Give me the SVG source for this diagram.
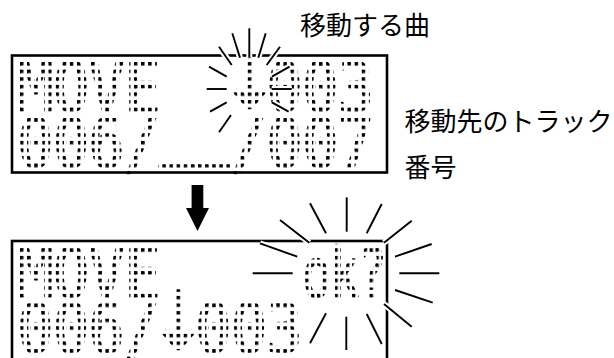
<svg xmlns="http://www.w3.org/2000/svg" width="614" height="358" viewBox="0 0 614 358">
<style>
.lcd{font-family:"DejaVu Sans Mono","Liberation Mono",monospace;font-weight:normal;font-size:67.2px;stroke-width:2.4;stroke-linejoin:round}
.arw{font-family:"DejaVu Sans","DejaVu Sans Mono",sans-serif;font-size:80px;text-anchor:middle}
.frame{fill:none;stroke:#000;stroke-width:2.6}
.lbl{font-family:"Noto Sans CJK JP","Noto Sans",sans-serif;font-size:26px;fill:#000}
.halo{stroke:#fff;stroke-width:6;stroke-linecap:butt}
.ray{stroke:#000;stroke-width:1.9;stroke-linecap:butt}
</style>
<defs>
<!-- dot grids, in the x-scaled (0.881) space of the LCD lines -->
<pattern id="p1" x="22.70" y="62.1" width="8.082" height="7.6" patternUnits="userSpaceOnUse"><rect width="3.86" height="3.4" fill="#000"/></pattern>
<pattern id="p2" x="22.70" y="118.1" width="8.082" height="7.6" patternUnits="userSpaceOnUse"><rect width="3.86" height="3.4" fill="#000"/></pattern>
<pattern id="p3" x="22.70" y="248.3" width="8.082" height="7.6" patternUnits="userSpaceOnUse"><rect width="3.86" height="3.4" fill="#000"/></pattern>
<pattern id="p4" x="22.70" y="303.5" width="8.082" height="7.6" patternUnits="userSpaceOnUse"><rect width="3.86" height="3.4" fill="#000"/></pattern>
<pattern id="pok" x="305.3" y="248.3" width="5.85" height="7.6" patternUnits="userSpaceOnUse"><rect width="3.2" height="3.4" fill="#000"/></pattern>
</defs>

<g id="display-before">
<rect class="frame" x="12" y="55.5" width="375" height="117"/>
<text class="lcd" transform="scale(0.881,1)" x="19.98" y="111.1" fill="url(#p1)" stroke="url(#p1)">MOVE<tspan class="arw" x="283.2" y="108">↓</tspan><tspan x="302.8" y="111.1">003</tspan></text>
<text class="lcd" transform="scale(0.881,1)" x="19.98" y="167.1" fill="url(#p2)" stroke="url(#p2)">006/<tspan x="181.6" y="153" stroke-width="4">__</tspan><tspan x="262.4" y="167.1">/007</tspan></text>
</g>

<g id="display-after">
<rect class="frame" x="12" y="241" width="375" height="130"/>
<text class="lcd" transform="scale(0.881,1)" x="19.98" y="297.3" fill="url(#p3)" stroke="url(#p3)">MOVE</text>
<text class="lcd" x="302.4" y="297.3" textLength="84" lengthAdjust="spacingAndGlyphs" fill="url(#pok)" stroke="url(#pok)">ok?</text>
<text class="lcd" transform="scale(0.881,1)" x="19.98" y="352.5" fill="url(#p4)" stroke="url(#p4)">006/<tspan class="arw" x="202.4" y="349.4">↓</tspan><tspan x="222" y="352.5">003</tspan></text>
</g>

<g id="sparkle-before">
<g class="halo">
<line x1="249.3" y1="28.3" x2="249.3" y2="57.5"/>
<line x1="232.3" y1="33.3" x2="240" y2="57.7"/>
<line x1="265.7" y1="33.3" x2="258.3" y2="57.7"/>
<line x1="219" y1="46.7" x2="231.7" y2="65"/>
<line x1="280" y1="46.7" x2="266.7" y2="65"/>
<line x1="209" y1="66.7" x2="226.7" y2="76.7"/>
<line x1="289.6" y1="66.7" x2="271.9" y2="76.7"/>
<line x1="206.7" y1="89" x2="226.7" y2="89"/>
<line x1="271.7" y1="89" x2="291.7" y2="89"/>
<line x1="210" y1="111.7" x2="226.7" y2="102.3"/>
<line x1="288.6" y1="111.7" x2="271.9" y2="102.3"/>
<line x1="219" y1="132.3" x2="231" y2="115"/>
</g>
<g class="ray">
<line x1="249.3" y1="28.3" x2="249.3" y2="57.5"/>
<line x1="232.3" y1="33.3" x2="240" y2="57.7"/>
<line x1="265.7" y1="33.3" x2="258.3" y2="57.7"/>
<line x1="219" y1="46.7" x2="231.7" y2="65"/>
<line x1="280" y1="46.7" x2="266.7" y2="65"/>
<line x1="209" y1="66.7" x2="226.7" y2="76.7"/>
<line x1="289.6" y1="66.7" x2="271.9" y2="76.7"/>
<line x1="206.7" y1="89" x2="226.7" y2="89"/>
<line x1="271.7" y1="89" x2="291.7" y2="89"/>
<line x1="210" y1="111.7" x2="226.7" y2="102.3"/>
<line x1="288.6" y1="111.7" x2="271.9" y2="102.3"/>
<line x1="219" y1="132.3" x2="231" y2="115"/>
</g>
</g>

<g id="sparkle-after">
<g class="halo">
<line x1="346.7" y1="197.3" x2="346.7" y2="231.7"/>
<line x1="310" y1="203.3" x2="326" y2="233.3"/>
<line x1="381.7" y1="204" x2="366.7" y2="233.3"/>
<line x1="280" y1="220" x2="309.3" y2="242.7"/>
<line x1="411.7" y1="220.7" x2="384" y2="242.7"/>
<line x1="260" y1="243.3" x2="297.3" y2="256.7"/>
<line x1="431.7" y1="244" x2="395" y2="256.7"/>
<line x1="252.7" y1="273.3" x2="292.7" y2="273.3"/>
<line x1="399.3" y1="273.3" x2="439.3" y2="273.3"/>
<line x1="395" y1="290" x2="432.7" y2="302.7"/>
<line x1="384" y1="304" x2="411.7" y2="326.7"/>
<line x1="346.3" y1="316.7" x2="346.3" y2="350"/>
<line x1="326" y1="313.3" x2="310" y2="343.3"/>
<line x1="366.7" y1="314" x2="381.7" y2="344"/>
</g>
<g class="ray">
<line x1="346.7" y1="197.3" x2="346.7" y2="231.7"/>
<line x1="310" y1="203.3" x2="326" y2="233.3"/>
<line x1="381.7" y1="204" x2="366.7" y2="233.3"/>
<line x1="280" y1="220" x2="309.3" y2="242.7"/>
<line x1="411.7" y1="220.7" x2="384" y2="242.7"/>
<line x1="260" y1="243.3" x2="297.3" y2="256.7"/>
<line x1="431.7" y1="244" x2="395" y2="256.7"/>
<line x1="252.7" y1="273.3" x2="292.7" y2="273.3"/>
<line x1="399.3" y1="273.3" x2="439.3" y2="273.3"/>
<line x1="395" y1="290" x2="432.7" y2="302.7"/>
<line x1="384" y1="304" x2="411.7" y2="326.7"/>
<line x1="346.3" y1="316.7" x2="346.3" y2="350"/>
<line x1="326" y1="313.3" x2="310" y2="343.3"/>
<line x1="366.7" y1="314" x2="381.7" y2="344"/>
</g>
</g>

<g id="label-track">
<text class="lbl" x="300" y="35">移動する曲</text>
</g>
<g id="label-destination">
<text class="lbl" x="404.5" y="131">移動先のトラック</text>
<text class="lbl" x="404.5" y="177">番号</text>
</g>

<g id="connectors">
<path d="M191.6,185 H203.3 V208 H209 L197.5,231 L186,208 H191.6 Z" fill="#000"/>
</g>
</svg>
